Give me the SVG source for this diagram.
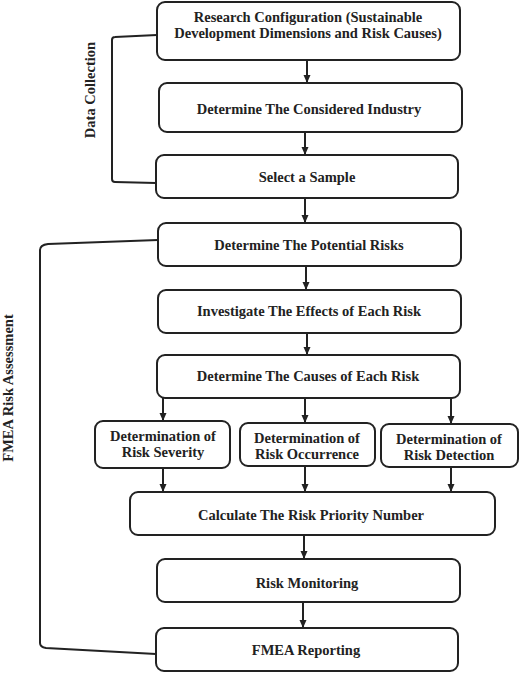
<svg xmlns="http://www.w3.org/2000/svg" width="520" height="673" viewBox="0 0 520 673">
<defs>
<marker id="ah" viewBox="0 0 8 8" refX="8" refY="4" markerWidth="8" markerHeight="8" markerUnits="userSpaceOnUse" orient="auto">
<path d="M0,0.5 L8,4 L0,7.5 Z" fill="#222"/>
</marker>
<style>
.box{fill:#fff;stroke:#222;stroke-width:2}
.t{font-family:"Liberation Serif","Times New Roman",serif;font-weight:bold;font-size:14.5px;fill:#222;text-anchor:middle}
.c{stroke:#222;stroke-width:2;fill:none}
.a{marker-end:url(#ah)}
</style>
</defs>
<rect width="520" height="673" fill="#fff"/>
<g id="connectors">
<line class="c a" x1="307" y1="60" x2="307" y2="83"/>
<line class="c a" x1="305" y1="132" x2="305" y2="155"/>
<line class="c a" x1="305" y1="198" x2="305" y2="223"/>
<line class="c a" x1="306" y1="266" x2="306" y2="290"/>
<line class="c a" x1="307" y1="333" x2="307" y2="355"/>
<line class="c a" x1="163" y1="398" x2="163" y2="421"/>
<line class="c a" x1="305" y1="398" x2="305" y2="423"/>
<line class="c a" x1="451" y1="398" x2="451" y2="424"/>
<line class="c a" x1="163" y1="468" x2="163" y2="492"/>
<line class="c a" x1="305" y1="466" x2="305" y2="492"/>
<line class="c a" x1="451" y1="467" x2="451" y2="492"/>
<line class="c a" x1="304" y1="535" x2="304" y2="559"/>
<line class="c a" x1="303" y1="602" x2="303" y2="628"/>
<path class="c" d="M157,35 L115,37 Q112,37 112,40 L112,179 Q112,182 115,182 L156,183"/>
<path class="c" d="M158,240 L48,244 Q40,245 40,250 L40,643 Q40,647 46,648 L156,654"/>
</g>
<g id="label-data-collection">
<text class="t" transform="translate(95,90) rotate(-90)">Data Collection</text>
</g>
<g id="label-fmea-risk-assessment">
<text class="t" transform="translate(13,388) rotate(-90)">FMEA Risk Assessment</text>
</g>
<g id="n1">
<rect class="box" x="157" y="2" width="303" height="58" rx="8"/>
<text class="t" x="308" y="22">Research Configuration (Sustainable</text>
<text class="t" x="308" y="38">Development Dimensions and Risk Causes)</text>
</g>
<g id="n2">
<rect class="box" x="159" y="83" width="303" height="49" rx="8"/>
<text class="t" x="309" y="114">Determine The Considered Industry</text>
</g>
<g id="n3">
<rect class="box" x="156" y="155" width="302" height="43" rx="8"/>
<text class="t" x="307" y="182">Select a Sample</text>
</g>
<g id="n4">
<rect class="box" x="158" y="223" width="303" height="43" rx="8"/>
<text class="t" x="309" y="250">Determine The Potential Risks</text>
</g>
<g id="n5">
<rect class="box" x="158" y="290" width="303" height="43" rx="8"/>
<text class="t" x="309" y="316">Investigate The Effects of Each Risk</text>
</g>
<g id="n6">
<rect class="box" x="157" y="355" width="303" height="43" rx="8"/>
<text class="t" x="308" y="381">Determine The Causes of Each Risk</text>
</g>
<g id="n7">
<rect class="box" x="95" y="421" width="135" height="47" rx="8"/>
<text class="t" x="163" y="441">Determination of</text>
<text class="t" x="163" y="457">Risk Severity</text>
</g>
<g id="n8">
<rect class="box" x="240" y="423" width="135" height="43" rx="8"/>
<text class="t" x="307" y="443">Determination of</text>
<text class="t" x="307" y="459">Risk Occurrence</text>
</g>
<g id="n9">
<rect class="box" x="381" y="424" width="137" height="43" rx="8"/>
<text class="t" x="449" y="444">Determination of</text>
<text class="t" x="449" y="460">Risk Detection</text>
</g>
<g id="n10">
<rect class="box" x="130" y="492" width="365" height="43" rx="8"/>
<text class="t" x="311" y="520">Calculate The Risk Priority Number</text>
</g>
<g id="n11">
<rect class="box" x="157" y="559" width="303" height="43" rx="8"/>
<text class="t" x="307" y="588">Risk Monitoring</text>
</g>
<g id="n12">
<rect class="box" x="156" y="628" width="302" height="43" rx="8"/>
<text class="t" x="306" y="655">FMEA Reporting</text>
</g>
</svg>
